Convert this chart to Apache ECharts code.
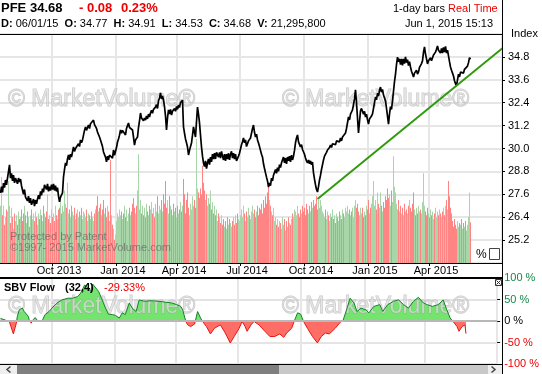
<!DOCTYPE html>
<html><head><meta charset="utf-8">
<script src="https://cdn.jsdelivr.net/npm/echarts@6/dist/echarts.min.js"></script>
<style>html,body{margin:0;padding:0;background:#fff}#c{width:542px;height:374px}</style>
</head><body><div id="c"></div>
<script>
// ---- data (PFE, 1-day bars, Jul 18 2013 .. Jun 1 2015) ----
const startDate = '2013-07-18';
const holidays = ['2013-09-02','2013-11-28','2013-12-25','2014-01-01','2014-01-20','2014-02-17','2014-04-18','2014-05-26','2014-07-04','2014-09-01','2014-11-27','2014-12-25','2015-01-01','2015-01-19','2015-02-16','2015-04-03','2015-05-25'];
const closes = [
27.67,28.00,27.70,28.19,27.95,28.35,28.10,28.45,28.55,29.14,
28.45,28.70,28.30,28.60,28.20,28.45,28.55,28.15,28.45,28.25,
28.40,28.05,27.98,27.60,27.85,27.45,27.55,27.25,27.50,27.15,
27.40,27.05,27.20,27.35,26.98,27.30,27.10,27.35,27.55,27.35,
27.75,27.55,27.90,27.70,28.10,28.00,27.85,28.15,27.75,28.00,
27.80,28.10,27.85,28.15,27.80,28.05,27.75,27.95,27.50,27.20,
27.45,27.40,27.67,28.51,28.90,29.24,29.10,29.45,29.66,29.40,
29.70,29.55,29.82,30.08,29.85,30.00,29.90,30.08,30.25,30.10,
30.45,30.30,30.45,30.70,30.95,31.13,30.95,31.10,31.23,31.05,
31.30,31.20,31.40,31.49,31.25,31.30,31.05,30.86,30.95,30.60,
30.45,30.50,30.10,29.82,29.90,29.55,29.30,29.60,29.40,29.65,
29.56,29.75,29.50,29.92,29.65,29.72,30.05,30.34,30.50,30.70,
30.97,30.80,30.95,30.85,31.00,30.71,31.05,31.20,31.34,31.10,
31.20,31.00,30.97,30.60,30.18,30.45,30.35,30.60,31.10,31.45,
31.86,31.60,31.70,31.45,31.60,31.49,31.70,31.55,31.80,31.65,
31.86,32.00,31.85,32.05,31.95,32.17,32.30,32.10,32.50,32.65,
32.91,32.60,32.75,32.54,32.20,31.70,30.97,31.60,32.02,31.80,
32.05,31.75,31.95,31.86,32.10,31.95,32.20,32.05,32.28,32.15,
32.40,32.30,32.54,31.13,30.80,30.50,30.30,30.08,29.66,29.90,
30.10,30.29,30.70,31.13,30.85,30.60,31.40,32.17,31.80,31.34,
30.70,30.08,29.60,29.24,29.05,29.35,28.95,29.25,29.45,29.15,
29.55,29.30,29.70,29.45,29.75,29.45,29.80,29.85,29.55,29.80,
29.50,29.85,29.60,29.40,29.70,29.35,29.70,29.45,29.75,29.40,
29.70,29.85,29.50,29.75,29.45,29.70,29.35,29.25,29.60,29.75,
29.82,30.20,30.35,30.55,30.30,30.45,30.10,30.18,30.40,30.30,
30.55,30.80,31.05,31.23,30.85,30.60,30.75,30.45,30.29,30.10,
29.90,29.70,29.55,29.20,28.95,28.72,28.50,28.30,27.98,28.20,
28.05,28.45,28.30,28.60,28.65,28.90,28.70,29.00,28.80,29.15,
29.00,29.25,29.30,29.55,29.25,29.50,29.20,29.55,29.35,29.60,
29.30,29.65,29.40,29.60,29.90,30.30,30.55,30.71,30.35,30.25,
30.08,30.20,29.95,29.92,29.70,29.50,29.35,29.24,29.40,29.20,
29.35,29.15,29.29,28.72,28.40,28.10,27.85,27.72,28.00,28.35,
28.60,28.90,29.15,29.40,29.60,29.50,29.80,29.92,29.85,30.05,
30.18,30.05,30.25,30.15,30.35,30.20,30.40,30.34,30.50,30.35,
30.55,30.40,30.60,30.50,30.70,30.81,31.05,31.35,31.65,31.50,
31.80,31.70,32.02,32.30,32.60,33.07,32.40,31.60,30.81,31.40,
31.97,32.10,32.02,31.80,31.95,31.65,31.80,31.50,31.28,31.55,
31.45,31.70,31.81,32.10,32.40,32.70,32.55,32.90,32.75,33.05,
33.22,32.95,33.10,32.80,32.70,32.49,32.10,31.70,31.28,31.80,
32.20,32.05,32.49,33.00,33.50,33.90,34.40,34.79,34.55,34.70,
34.40,34.70,34.35,34.70,34.45,34.80,34.50,34.65,34.35,34.55,
34.27,34.05,33.90,33.75,33.95,33.85,34.10,33.90,34.01,34.25,
34.15,34.45,34.59,35.05,35.32,34.95,34.70,34.43,34.60,34.50,
34.75,34.60,34.69,34.90,34.80,35.05,35.20,35.37,35.15,35.25,
35.00,35.25,35.00,35.30,35.05,35.35,35.00,35.15,34.85,34.55,
34.27,34.10,33.95,33.80,33.55,33.40,33.28,33.60,33.90,33.75,
34.00,33.90,34.06,33.95,34.15,34.05,34.25,34.32,34.50,34.76,
34.68];
// daily volume, millions of shares
const volumes = [
30,45,25,30,20,24,28,27,43,30,21,29,24,18,26,22,25,20,27,23,
24,28,22,26,30,25,21,27,24,19,25,28,23,26,22,27,24,20,26,23,
28,25,22,30,26,24,27,36,23,25,21,28,24,26,22,30,25,23,28,29,
33,26,30,27,38,31,29,42,26,28,24,30,27,25,29,23,26,28,24,27,
25,29,23,27,26,24,28,22,26,25,23,27,24,22,26,28,30,35,27,29,
31,25,28,33,26,29,24,30,27,22,54,25,20,18,12,15,22,26,24,28,
25,27,23,26,30,24,28,22,26,29,25,27,31,34,29,26,30,38,57,28,
33,26,30,25,29,24,31,27,25,30,28,32,26,29,24,31,27,35,26,30,
28,33,27,36,31,43,29,33,26,35,30,28,25,31,27,29,24,30,26,28,
32,27,30,44,36,26,33,37,29,25,31,28,35,30,33,29,65,39,37,34,
39,36,51,42,38,33,36,30,34,31,38,28,32,26,30,25,28,22,26,24,
21,25,20,23,19,22,18,24,20,23,21,19,22,24,20,25,21,26,23,22,
25,28,24,30,26,22,27,24,29,25,23,27,30,26,28,24,27,30,25,29,
28,31,26,33,29,35,31,37,40,33,30,27,25,29,22,24,20,23,19,22,
21,18,24,20,23,17,22,19,24,21,20,23,26,24,28,27,25,30,26,24,
28,26,30,27,29,25,31,28,26,30,27,32,29,33,30,31,35,28,33,29,
33,30,27,26,24,28,23,27,25,22,26,24,28,23,25,21,26,24,22,27,
25,23,28,26,24,29,27,30,26,28,25,27,29,24,30,33,29,31,27,25,
29,26,29,24,27,25,30,28,33,26,29,31,35,43,30,33,28,37,31,29,
37,30,27,32,29,35,33,39,34,36,30,38,32,56,40,37,31,28,33,27,
30,26,29,25,31,27,28,26,30,33,29,27,31,37,28,25,29,26,30,27,
28,26,32,47,30,27,25,29,26,24,28,25,27,23,26,29,24,27,25,28,
26,24,27,29,25,30,33,28,43,35,29,26,22,19,23,20,18,22,19,21,
20,23,18,21,19,22,17,20,24,37,21.3];
// SBV Flow (32,4), % : [trading-day index, value]
const sbvFlow = [[0,6],[2,8],[5,2],[9,-2],[10,-5],[13,-30],[16,-5],[17,11],[19,26],[22,30],[24,22],[28,11],[29,3],[31,-5],[33,3],[35,8],[38,-1],[42,0],[43,-3],[45,15],[49,22],[52,30],[57,42],[62,49],[68,53],[73,53],[78,57],[81,65],[85,84],[88,77],[91,69],[93,86],[95,84],[99,69],[102,53],[106,30],[109,16],[113,15],[116,13],[120,7],[123,19],[126,15],[130,42],[133,30],[137,22],[140,49],[145,46],[152,47],[159,46],[166,44],[173,42],[178,38],[182,34],[184,26],[187,0],[189,-9],[192,-13],[196,-7],[199,22],[202,7],[204,-1],[208,-13],[212,-30],[216,-17],[222,-9],[227,-28],[232,-51],[236,-36],[241,-17],[244,-1],[247,-13],[249,-24],[253,-9],[256,-1],[261,-9],[267,-24],[272,-36],[277,-36],[282,-30],[286,-38],[289,-28],[294,-17],[297,2],[300,19],[303,16],[306,-1],[310,-17],[315,-36],[320,-51],[324,-36],[328,-28],[332,-30],[338,-17],[343,-3],[346,2],[350,30],[353,53],[357,42],[360,22],[364,30],[369,26],[372,19],[377,34],[383,38],[386,22],[391,38],[397,46],[402,49],[407,38],[412,30],[417,46],[422,55],[427,42],[431,38],[436,34],[442,38],[447,49],[450,30],[454,7],[457,-1],[461,-13],[463,-24],[466,-13],[469,-9],[470,-29.33]];
// green trend line: [trading-day index, price]
const trendLine = [[317,27.35],[510,35.6]];
const priceAxis = {min:24, max:36, interval:1.2};
const volumeAxisMax = 120;
const sbvAxis = {min:-100, max:100, interval:50};
const slotCount = 502; // category slots across the plot
const monthNames = ['Jan','Feb','Mar','Apr','May','Jun','Jul','Aug','Sep','Oct','Nov','Dec'];

// ---- categories: trading days ----
function fmt(d){return d.getUTCFullYear()+'-'+String(d.getUTCMonth()+1).padStart(2,'0')+'-'+String(d.getUTCDate()).padStart(2,'0');}
const dates = [];
{ const d = new Date(startDate+'T00:00:00Z');
  while (dates.length < closes.length) {
    const s = fmt(d), wd = d.getUTCDay();
    if (wd !== 0 && wd !== 6 && holidays.indexOf(s) < 0) dates.push(s);
    d.setUTCDate(d.getUTCDate()+1);
  } }
const categories = dates.slice();
for (let i = categories.length; i < slotCount; i++) categories.push('pad'+i);
function isQuarterStart(i){
  if (i <= 0 || i >= dates.length) return false;
  const m = +dates[i].slice(5,7);
  return [1,4,7,10].indexOf(m) >= 0 && dates[i-1].slice(5,7) !== dates[i].slice(5,7);
}
const qInterval = (i) => isQuarterStart(i);

const FONT = '"Liberation Sans", Arial, Helvetica, sans-serif';
function T(x,y,text,o){o=o||{};const st={text:text,fill:o.color||'#000',fontSize:o.size||11,fontWeight:o.bold?'bold':'normal',fontFamily:FONT,align:o.align||'left',verticalAlign:'middle'};
  if(o.stroke){st.stroke=o.stroke;st.lineWidth=o.lw||1;} if(o.rich){st.rich=o.rich;}
  return {type:'text',x:x,y:y,z:o.z||20,silent:true,style:st};}
function L(x1,y1,x2,y2,c,w){return {type:'line',z:30,silent:true,shape:{x1:x1,y1:y1,x2:x2,y2:y2},style:{stroke:c||'#000',lineWidth:w||1}};}
function R(x,y,w,h,fill,stroke,z){return {type:'rect',z:z||30,silent:true,shape:{x:x,y:y,width:w,height:h},style:{fill:fill,stroke:stroke||null,lineWidth:stroke?1:0}};}

const RED='#ee0000', GREEN_TXT='#15884a';
const wm = {color:'rgba(224,224,224,0.7)', stroke:'rgba(150,150,150,0.5)', lw:1, size:23, z:3};
const richB = {b:{fontWeight:'bold',fontSize:11,fontFamily:FONT,fill:'#000'}};
const graphics = [
  // header
  T(1,8.5,'PFE',{bold:true,size:13}), T(30,8.5,'34.68',{bold:true,size:13}),
  T(79,8.5,'- 0.08',{bold:true,size:13,color:RED}), T(121,8.5,'0.23%',{bold:true,size:13,color:RED}),
  T(1,24,'{b|D:} 06/01/15  {b|O:} 34.77  {b|H:} 34.91  {b|L:} 34.53  {b|C:} 34.68  {b|V:} 21,295,800',{rich:richB}),
  T(393,9,'1-day bars'), T(448,9,'Real Time',{color:RED}), T(493,24,'Jun 1, 2015 15:13',{align:'right'}),
  T(511,34,'Index'),
  // watermarks
  T(8,100,'© MarketVolume®',wm), T(282,100,'© MarketVolume®',wm),
  T(8,307,'© MarketVolume®',wm), T(282,307,'© MarketVolume®',wm),
  T(10,237,'Protected by Patent',{color:'rgba(90,90,90,0.65)',z:3}),
  T(10,248,'©1997- 2015 MarketVolume.com',{color:'rgba(90,90,90,0.65)',z:3}),
  // % checkbox
  T(476,255,'%',{size:12}), R(489.5,248.5,10,11,'#fff','#444'),
  // SBV title
  T(4,288,'SBV Flow',{bold:true}), T(65,288,'(32,4)',{bold:true}), T(104,288,'-29.33%',{color:RED}),
  // close box
  R(495.5,279.5,6,6,'#fff','#333'), L(496.5,280.5,500.5,284.5,'#333',1), L(500.5,280.5,496.5,284.5,'#333',1),
  // frame
  L(0,34.5,502,34.5), L(502.5,0,502.5,374), L(0,278,502,278,'#000',2), L(0,364.5,502,364.5),
  // scrollbar
  R(0,365,502,9,'#eeeeee',null,25), R(17,365,471,9,'#c8c8c8',null,26), R(17,365,262,9,'#7f7f7f',null,27),
  {type:'polyline',z:30,silent:true,shape:{points:[[10.5,366.5],[7,369.5],[10.5,372.5]]},style:{stroke:'#444',lineWidth:1.5,fill:null}},
  {type:'polyline',z:30,silent:true,shape:{points:[[491.5,366.5],[495,369.5],[491.5,372.5]]},style:{stroke:'#444',lineWidth:1.5,fill:null}}
];

const chart = echarts.init(document.getElementById('c'), null, {renderer:'canvas'});
chart.setOption({
  animation:false,
  backgroundColor:'#fff',
  textStyle:{fontFamily:FONT},
  grid:[{left:0,right:40,top:34,bottom:111},{left:0,right:40,top:278,bottom:10}],
  xAxis:[
    {type:'category',gridIndex:0,data:categories,boundaryGap:true,
     axisLine:{show:true,lineStyle:{color:'#000',width:1}},
     axisTick:{show:true,interval:qInterval,length:3,lineStyle:{color:'#000'}},
     axisLabel:{show:true,interval:qInterval,margin:2,fontSize:11,color:'#000',fontFamily:FONT,padding:[0,0,0,13],
       formatter:(v)=>monthNames[+v.slice(5,7)-1]+' '+v.slice(0,4)},
     splitLine:{show:true,interval:qInterval,lineStyle:{color:'#e6e6e6',width:2}}},
    {type:'category',gridIndex:1,data:categories,boundaryGap:true,
     axisLine:{show:false},axisTick:{show:false},axisLabel:{show:false},
     splitLine:{show:true,interval:qInterval,lineStyle:{color:'#e6e6e6',width:2}}}
  ],
  yAxis:[
    {type:'value',gridIndex:0,position:'right',min:priceAxis.min,max:priceAxis.max,interval:priceAxis.interval,
     axisLine:{show:true,lineStyle:{color:'#000'}},
     axisTick:{show:true,length:3,lineStyle:{color:'#000'}},
     axisLabel:{showMinLabel:false,showMaxLabel:false,formatter:(v)=>v.toFixed(1),fontSize:11,color:'#000',margin:6,fontFamily:FONT},
     splitLine:{show:true,lineStyle:{color:'#e6e6e6',width:2}}},
    {type:'value',gridIndex:0,min:0,max:volumeAxisMax,show:false,splitLine:{show:false}},
    {type:'value',gridIndex:1,position:'right',min:sbvAxis.min,max:sbvAxis.max,interval:sbvAxis.interval,
     axisLine:{show:false},
     axisTick:{show:true,length:3,lineStyle:{color:'#000'}},
     axisLabel:{formatter:(v)=>v+' %',fontSize:11,margin:7,fontFamily:FONT,
       color:(v)=>{v=+v;return v>0?GREEN_TXT:(v<0?RED:'#000');}},
     splitLine:{show:true,lineStyle:{color:'#e4e4e4',width:2}}}
  ],
  visualMap:[
    {type:'piecewise',show:false,seriesIndex:3,dimension:1,pieces:[{gt:0,lte:100,color:'#74e46f'},{gte:-100,lte:0,color:'#ff6e66'}]},
    {type:'piecewise',show:false,seriesIndex:4,dimension:1,pieces:[{gt:0,lte:100,color:'#12822a'},{gte:-100,lte:0,color:'#e8140f'}]}
  ],
  series:[
    {type:'bar',xAxisIndex:0,yAxisIndex:1,data:volumes,barWidth:1,barGap:'0%',z:2,silent:true,
     itemStyle:{color:(p)=>(p.dataIndex===0||closes[p.dataIndex]>=closes[p.dataIndex-1])?'#a9d6a9':'#ff8585'}},
    {type:'line',xAxisIndex:0,yAxisIndex:0,data:closes,symbol:'none',z:4,silent:true,
     lineStyle:{color:'#000',width:1.7}},
    {type:'line',xAxisIndex:0,yAxisIndex:0,data:trendLine,symbol:'none',z:5,clip:false,silent:true,
     lineStyle:{color:'#2f9a0d',width:2}},
    {type:'line',xAxisIndex:1,yAxisIndex:2,data:sbvFlow,symbol:'none',z:2,silent:true,
     lineStyle:{width:0},areaStyle:{opacity:1}},
    {type:'line',xAxisIndex:1,yAxisIndex:2,data:sbvFlow,symbol:'none',z:4,silent:true,
     lineStyle:{width:1}},
    {type:'line',xAxisIndex:1,yAxisIndex:2,data:[],symbol:'none',silent:true,z:3,
     markLine:{silent:true,symbol:'none',label:{show:false},data:[{yAxis:0}],lineStyle:{color:'#b8b8b8',width:2,type:'solid'}}}
  ],
  graphic:{elements:graphics}
});
</script></body></html>
